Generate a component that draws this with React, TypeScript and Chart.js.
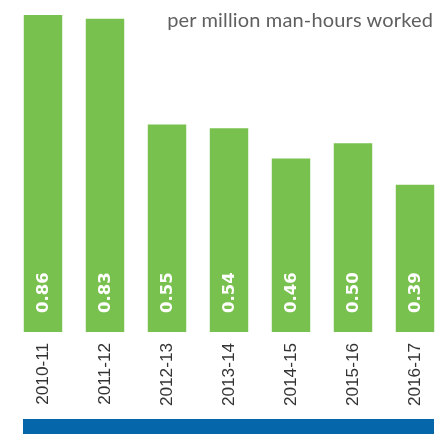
import React, { useEffect, useRef } from "react";
import { Chart, registerables } from "chart.js";

Chart.register(...registerables);

const categories = ["2010-11", "2011-12", "2012-13", "2013-14", "2014-15", "2015-16", "2016-17"];
const values = [0.86, 0.83, 0.55, 0.54, 0.46, 0.5, 0.39];
const valueLabels = ["0.86", "0.83", "0.55", "0.54", "0.46", "0.50", "0.39"];
const unitNote = "per million man-hours worked";
const axisMax = 0.84;

const GREEN = "#79c14e";
const BLUE = "#0567a9";

function pickAxisFont(): { family: string; size: number } {
  const c = document.createElement("canvas").getContext("2d");
  const narrow = "'Liberation Sans Narrow'";
  if (!c) return { family: "'Liberation Sans', Arial, sans-serif", size: 17 };
  c.font = `100px ${narrow}, monospace`;
  const a = c.measureText("2010-11").width;
  c.font = `100px ${narrow}, serif`;
  const b = c.measureText("2010-11").width;
  const family = a === b ? `${narrow}, 'Liberation Sans', Arial, sans-serif` : "'Liberation Sans', Arial, sans-serif";
  c.font = `100px ${family}`;
  const w = c.measureText("2010-11").width;
  return { family, size: Math.round((62 / w) * 1000) / 10 };
}

const valueLabelPlugin = {
  id: "valueLabels",
  afterDatasetsDraw(chart: any) {
    const ctx = chart.ctx;
    const meta = chart.getDatasetMeta(0);
    ctx.save();
    ctx.fillStyle = "#ffffff";
    ctx.font = "bold 16.5px 'DejaVu Sans', sans-serif";
    ctx.textAlign = "left";
    ctx.textBaseline = "alphabetic";
    meta.data.forEach((bar: any, i: number) => {
      const p = bar.getProps(["x", "base"], true);
      ctx.save();
      ctx.translate(p.x, p.base - 19);
      ctx.rotate(-Math.PI / 2);
      ctx.fillText(valueLabels[i], 0, 5);
      ctx.restore();
    });
    ctx.restore();
  },
};

export default function App() {
  const canvasRef = useRef<HTMLCanvasElement | null>(null);

  useEffect(() => {
    const canvas = canvasRef.current;
    if (!canvas) return;
    const axisFont = pickAxisFont();
    const chart = new Chart(canvas, {
      type: "bar",
      data: {
        labels: categories,
        datasets: [
          {
            data: values,
            backgroundColor: GREEN,
            borderWidth: 0,
            barPercentage: 0.62,
            categoryPercentage: 1,
            clip: 0,
          } as any,
        ],
      },
      options: {
        responsive: false,
        animation: false,
        events: [],
        layout: { padding: { left: 12, right: 2, top: 15, bottom: 12 } },
        plugins: { legend: { display: false }, tooltip: { enabled: false }, title: { display: false } },
        scales: {
          x: {
            grid: { display: false, drawTicks: false },
            border: { display: false },
            afterFit: (scale: any) => {
              scale.height = 90;
            },
            ticks: {
              minRotation: 90,
              maxRotation: 90,
              padding: 11,
              color: "#333333",
              font: { family: axisFont.family, size: axisFont.size },
            },
          },
          y: {
            display: false,
            min: 0,
            max: axisMax,
          },
        },
      },
      plugins: [valueLabelPlugin],
    });
    return () => chart.destroy();
  }, []);

  return (
    <div
      style={{
        position: "fixed",
        left: 0,
        top: 0,
        width: 436,
        height: 434,
        overflow: "hidden",
        background: "#ffffff",
      }}
    >
      <canvas
        ref={canvasRef}
        width={448}
        height={434}
        style={{ position: "absolute", left: 0, top: 0, width: 448, height: 434 }}
      />
      <div
        style={{
          position: "absolute",
          right: 3,
          top: 7,
          fontFamily: "Lato, 'Open Sans', sans-serif",
          fontSize: 20,
          letterSpacing: 0.15,
          lineHeight: "24px",
          color: "#5f5f5f",
          whiteSpace: "nowrap",
        }}
      >
        {unitNote}
      </div>
      <div
        style={{
          position: "absolute",
          left: 23,
          top: 419,
          width: 411,
          height: 15,
          background: BLUE,
        }}
      />
    </div>
  );
}
